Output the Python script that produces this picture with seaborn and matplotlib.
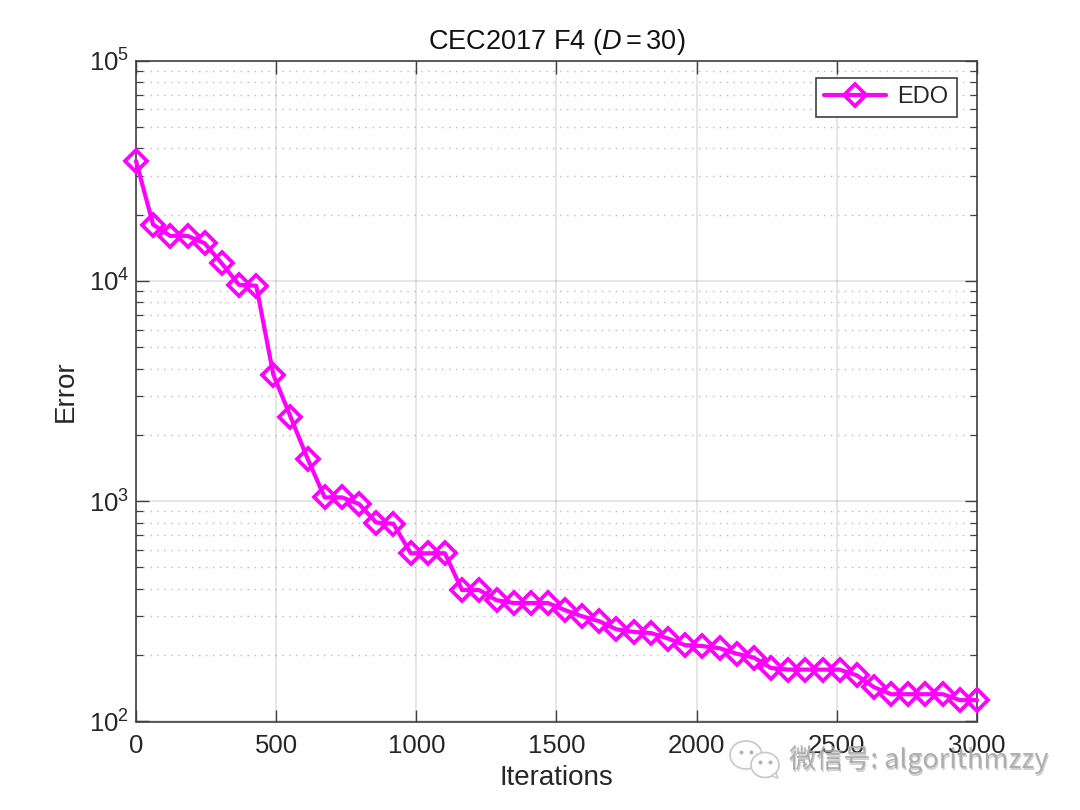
import numpy as np
import pandas as pd
import matplotlib
matplotlib.use("Agg")
import matplotlib.pyplot as plt
from matplotlib.patches import Ellipse, Polygon
from matplotlib.ticker import LogLocator, NullFormatter, FixedLocator
import seaborn as sns

iterations = [0, 61, 122, 184, 245, 306, 367, 429, 490, 551, 612, 673, 735, 796, 857, 918, 980, 1041, 1102, 1163,
              1224, 1286, 1347, 1408, 1469, 1531, 1592, 1653, 1714, 1776, 1837, 1898, 1959, 2020, 2082, 2143, 2204,
              2265, 2327, 2388, 2449, 2510, 2571, 2633, 2694, 2755, 2816, 2878, 2939, 3000]
errors = [35000, 18000, 16000, 16000, 14800, 12000, 9600, 9500, 3750, 2420, 1560, 1040, 1040, 970, 800, 790,
          580, 580, 580, 395, 395, 355, 345, 345, 345, 320, 300, 285, 262, 255, 252, 238, 222, 220, 215, 203, 195,
          175, 172, 172, 172, 172, 162, 143, 133, 133, 133, 133, 125, 125]
xticks = [0, 500, 1000, 1500, 2000, 2500, 3000]
series_name = "EDO"

sns.set_theme(style="white")
plt.rcParams["font.family"] = ["Liberation Sans", "Noto Sans CJK SC", "DejaVu Sans"]
plt.rcParams["mathtext.fontset"] = "custom"
plt.rcParams["mathtext.rm"] = "Liberation Sans"
plt.rcParams["mathtext.it"] = "Liberation Sans:italic"
plt.rcParams["mathtext.default"] = "rm"

W, H = 1080, 810
fig = plt.figure(figsize=(W / 100, H / 100), dpi=100, facecolor="white")
L, R, T, B = 136, 977, 60.5, 721.5
ax = fig.add_axes([L / W, 1 - B / H, (R - L) / W, (B - T) / H])

df = pd.DataFrame({"Iterations": iterations, "Error": errors, "s": series_name})
sns.lineplot(data=df, x="Iterations", y="Error", hue="s", palette=["#ff00ff"], ax=ax,
             marker="D", markersize=11.5, markerfacecolor="none", markeredgecolor="#ff00ff",
             markeredgewidth=2.7, linewidth=3, clip_on=False, zorder=5, errorbar=None, sort=False)

ax.set_yscale("log")
ax.set_xlim(0, 3000)
ax.set_ylim(100, 100000)
ax.xaxis.set_major_locator(FixedLocator(xticks))
ax.yaxis.set_major_locator(LogLocator(base=10, numticks=6))
ax.yaxis.set_minor_locator(LogLocator(base=10, subs=np.arange(2, 10), numticks=12))
ax.yaxis.set_minor_formatter(NullFormatter())

dark = "#404040"
ax.grid(True, which="major", color="#262626", alpha=0.15, linewidth=1.1, linestyle="-")
ax.grid(True, which="minor", axis="y", color="#262626", alpha=0.3, linewidth=1.0, linestyle=(0, (1, 4)))
ax.set_axisbelow(True)
for s in ax.spines.values():
    s.set_color(dark)
    s.set_linewidth(1.2)
    s.set_visible(True)
ax.tick_params(axis="both", which="major", direction="in", length=9, width=1.0, color=dark,
               top=True, right=True, bottom=True, left=True, labelsize=18.5, labelcolor="#262626", pad=5)
ax.tick_params(axis="y", which="minor", direction="in", length=5, width=0.9, color=dark, left=True, right=True)
ax.tick_params(axis="x", pad=9)

ax.set_xlabel("Iterations", fontsize=20, color="#262626", labelpad=5)
ax.set_ylabel("Error", fontsize=20, color="#262626", labelpad=7)
ax.set_title(r"CEC2017 F4 $\mathit{(D=30)}$", fontsize=19.5, color="#111111", pad=8)

leg = ax.legend(loc="upper right", bbox_to_anchor=(808 / W, 0, 149 / W, 1), frameon=True, fontsize=17,
                fancybox=False, framealpha=1, edgecolor=dark, handlelength=2.6, borderpad=0.35,
                handletextpad=0.5, borderaxespad=0, bbox_transform=fig.transFigure)
leg.set_title(None)
leg.set_bbox_to_anchor((957 / W, 1 - 78 / H), transform=fig.transFigure)
leg.get_frame().set_linewidth(1.2)

# watermark
wm = fig.add_axes([0, 0, 1, 1], facecolor="none")
wm.set_xlim(0, W)
wm.set_ylim(H, 0)
wm.axis("off")
for cx, cy, w, h in [(746, 755, 32, 28), (765, 765, 28, 25)]:
    wm.add_patch(Ellipse((cx, cy), w, h, facecolor="white", edgecolor="#c4c4c4", linewidth=1.2, alpha=0.95))
    wm.plot([cx - w * .17, cx + w * .17], [cy - h * .12] * 2, ls="", marker="o", ms=1.8, color="#b0b0b0")
wm.add_patch(Polygon([[771, 776], [778, 778], [776, 773]], facecolor="white", edgecolor="#c4c4c4", linewidth=1))
wm.text(790.5, 761.5, "微信号: algorithmzzy", fontsize=19.5, color="#8a8a8a", va="center", ha="left", alpha=0.4,
        family=["Noto Sans CJK SC", "DejaVu Sans"])
wm.text(789, 760, "微信号: algorithmzzy", fontsize=19.5, color="#a8a8a8", va="center", ha="left", alpha=0.9,
        family=["Noto Sans CJK SC", "DejaVu Sans"])

fig.savefig("out.png", dpi=100, facecolor="white")
